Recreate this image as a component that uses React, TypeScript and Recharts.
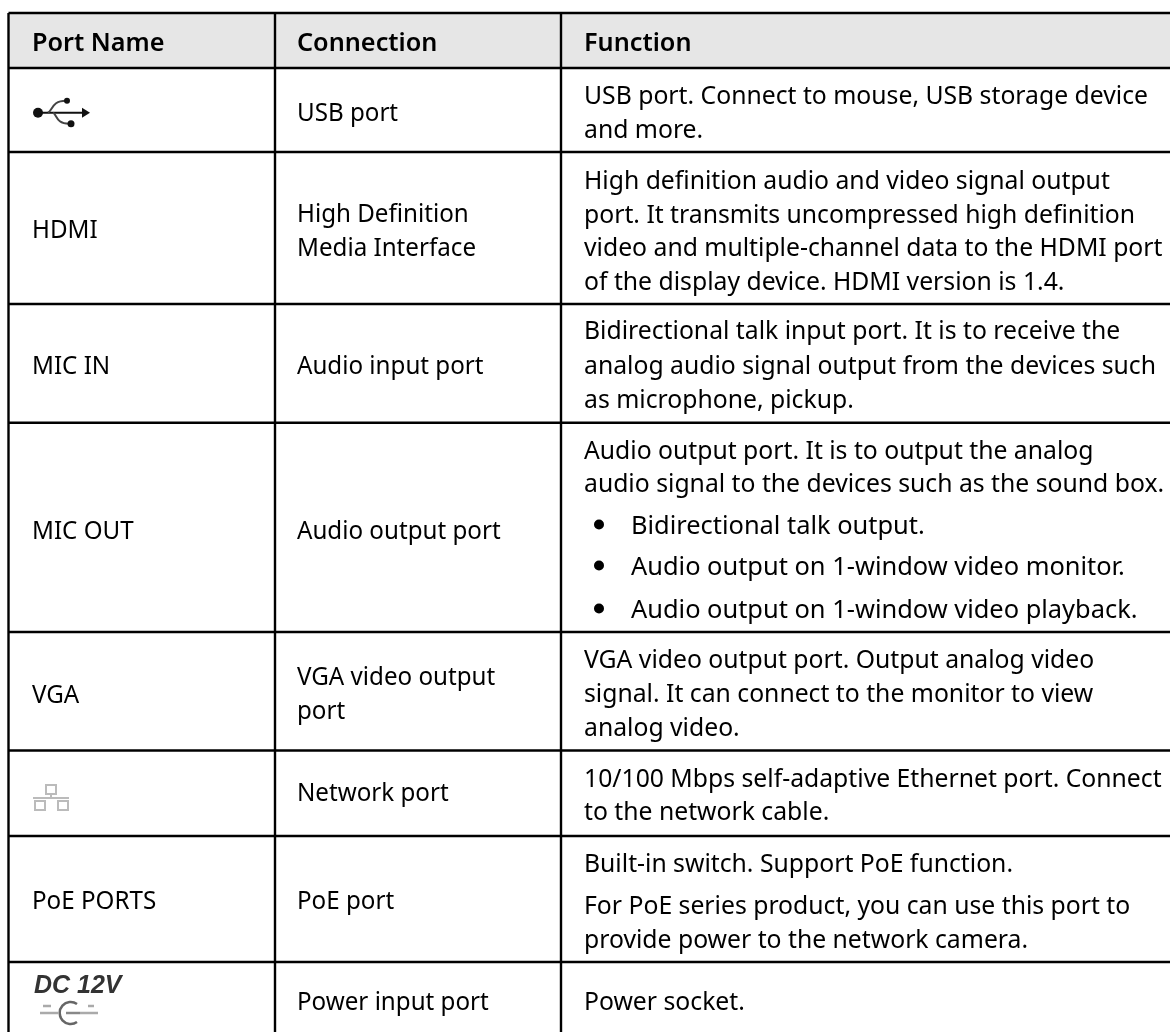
import React from "react";
import { ComposedChart, XAxis, YAxis, ReferenceArea, ReferenceLine, Scatter } from "recharts";

const WIDTH = 1170;
const HEIGHT = 1032;

const columnEdges = [8.5, 275, 561];
const rowEdges = [13, 68, 152, 304, 422.7, 632, 750.5, 836, 962];

const headers = ["Port Name", "Connection", "Function"];
const headerBaseline = 50.5;

const portNames = ["HDMI", "MIC IN", "MIC OUT", "VGA", "PoE PORTS"];
const portNameBaselines = [238, 373.5, 538.5, 702.5, 909];

const connections = [
  "USB port",
  "High Definition",
  "Media Interface",
  "Audio input port",
  "Audio output port",
  "VGA video output",
  "port",
  "Network port",
  "PoE port",
  "Power input port",
];
const connectionBaselines = [120.5, 221.5, 255.5, 373.5, 538.5, 684.5, 718.5, 800.5, 909, 1009.5];

const functionLines = [
  "USB port. Connect to mouse, USB storage device",
  "and more.",
  "High definition audio and video signal output",
  "port. It transmits uncompressed high definition",
  "video and multiple-channel data to the HDMI port",
  "of the display device. HDMI version is 1.4.",
  "Bidirectional talk input port. It is to receive the",
  "analog audio signal output from the devices such",
  "as microphone, pickup.",
  "Audio output port. It is to output the analog",
  "audio signal to the devices such as the sound box.",
  "VGA video output port. Output analog video",
  "signal. It can connect to the monitor to view",
  "analog video.",
  "10/100 Mbps self-adaptive Ethernet port. Connect",
  "to the network cable.",
  "Built-in switch. Support PoE function.",
  "For PoE series product, you can use this port to",
  "provide power to the network camera.",
  "Power socket.",
];
const functionBaselines = [
  103.5, 137.5, 188.5, 222.5, 255.5, 289.5, 338.5, 373.5, 407.5, 458.5, 491.5, 667.5, 701.5, 735.5, 786.5, 819.5,
  871.5, 913.5, 947.5, 1009.5,
];

const bulletLines = [
  "Bidirectional talk output.",
  "Audio output on 1-window video monitor.",
  "Audio output on 1-window video playback.",
];
const bulletBaselines = [533.5, 574.5, 617.5];

const FONT = "Noto Sans";
const FONT_SIZE = 25;
const TEXT_X = [32, 297, 584];
const BULLET_X = 599;
const BULLET_TEXT_X = 631;

// the reference face is a bit narrower than Noto Sans, so each group gets its own x scale
const toPoints = (texts: string[], baselines: number[], x: number, squeeze: number) =>
  texts.map((text, i) => ({ x, y: baselines[i], text, squeeze, bold: false }));

const textPoints = [
  ...headers.map((text, i) => ({ x: TEXT_X[i], y: headerBaseline, text, squeeze: 1.01, bold: true })),
  ...toPoints(portNames, portNameBaselines, TEXT_X[0], 0.967),
  ...toPoints(connections, connectionBaselines, TEXT_X[1], 0.967),
  ...toPoints(functionLines, functionBaselines, TEXT_X[2], 0.99),
  ...toPoints(bulletLines, bulletBaselines, BULLET_TEXT_X, 1.017),
];

const bulletPoints = bulletBaselines.map((y) => ({ x: BULLET_X, y: y - 9 }));

function TextLine({ cx, cy, payload }: any) {
  return (
    <text
      transform={`translate(${cx},${cy}) scale(${payload.squeeze},1)`}
      fontFamily={FONT}
      fontSize={FONT_SIZE}
      fontWeight={payload.bold ? 600 : 400}
      fill="#000"
      style={{ filter: "blur(0.25px)" }}
    >
      {payload.text}
    </text>
  );
}

function Bullet({ cx, cy }: any) {
  return <circle cx={cx} cy={cy} r={5} fill="#000" />;
}

function UsbIcon({ cx, cy }: any) {
  return (
    <g transform={`translate(${cx},${cy})`} fill="#111" stroke="#111" style={{ filter: "blur(0.5px)" }}>
      <circle cx={-21} cy={0} r={5} stroke="none" />
      <line x1={-21} y1={0} x2={24} y2={0} strokeWidth={2} />
      <path d="M23 -5 L31 0 L23 5 Z" stroke="none" />
      <path d="M-11 0 C-6 -3 -7 -12 7 -12" fill="none" strokeWidth={2} stroke="#444" />
      <path d="M-6 0 C-2 2 -3 11 10 11" fill="none" strokeWidth={2} stroke="#444" />
      <circle cx={8} cy={-12} r={3} stroke="none" />
      <circle cx={12} cy={11} r={3.5} stroke="none" />
    </g>
  );
}

function NetworkIcon({ cx, cy }: any) {
  return (
    <g transform={`translate(${cx},${cy})`} fill="none" stroke="#bbb" strokeWidth={2} style={{ filter: "blur(0.4px)" }}>
      <rect x={-5} y={-12} width={10} height={9} />
      <line x1={-18} y1={1} x2={18} y2={1} />
      <line x1={0} y1={-3} x2={0} y2={1} />
      <rect x={-16} y={4} width={10} height={9} />
      <rect x={7} y={4} width={10} height={9} />
    </g>
  );
}

function PowerIcon({ cx, cy }: any) {
  return (
    <g transform={`translate(${cx},${cy})`} style={{ filter: "blur(0.6px)" }}>
      <text x={-34} y={-20} fontFamily="Liberation Sans" fontStyle="italic" fontWeight={700} fontSize={25} fill="#333">
        DC 12V
      </text>
      <g stroke="#aaa" strokeWidth={2.5} fill="none">
        <path d="M-28 0 h18 M12 0 h18 M-25 -7 h8 M20 -7 h6" />
        <path d="M9 -9 A 11 11 0 1 0 9 9" stroke="#666" strokeWidth={2.5} />
        <line x1={-2} y1={0} x2={12} y2={0} stroke="#888" />
      </g>
    </g>
  );
}

export default function App() {
  const right = WIDTH;
  return (
    <div style={{ position: "absolute", left: 0, top: 0, background: "#fff" }}>
      <ComposedChart width={WIDTH} height={HEIGHT} margin={{ top: 0, right: 0, bottom: 0, left: 0 }} data={textPoints}>
        <XAxis type="number" dataKey="x" domain={[0, WIDTH]} hide />
        <YAxis type="number" dataKey="y" domain={[0, HEIGHT]} reversed hide />
        <ReferenceArea x1={columnEdges[0]} x2={right} y1={rowEdges[0]} y2={rowEdges[1]} fill="#e6e6e6" fillOpacity={1} stroke="none" />
        {rowEdges.map((y) => (
          <ReferenceLine key={y} segment={[{ x: columnEdges[0], y }, { x: right, y }]} stroke="#000" strokeWidth={2.4} />
        ))}
        {columnEdges.map((x) => (
          <ReferenceLine key={x} segment={[{ x, y: rowEdges[0] }, { x, y: HEIGHT }]} stroke="#000" strokeWidth={2.4} />
        ))}
        <Scatter data={textPoints} shape={<TextLine />} isAnimationActive={false} />
        <Scatter data={bulletPoints} shape={<Bullet />} isAnimationActive={false} />
        <Scatter data={[{ x: 59, y: 112.7 }]} shape={<UsbIcon />} isAnimationActive={false} />
        <Scatter data={[{ x: 51, y: 797 }]} shape={<NetworkIcon />} isAnimationActive={false} />
        <Scatter data={[{ x: 68, y: 1013 }]} shape={<PowerIcon />} isAnimationActive={false} />
      </ComposedChart>
    </div>
  );
}
